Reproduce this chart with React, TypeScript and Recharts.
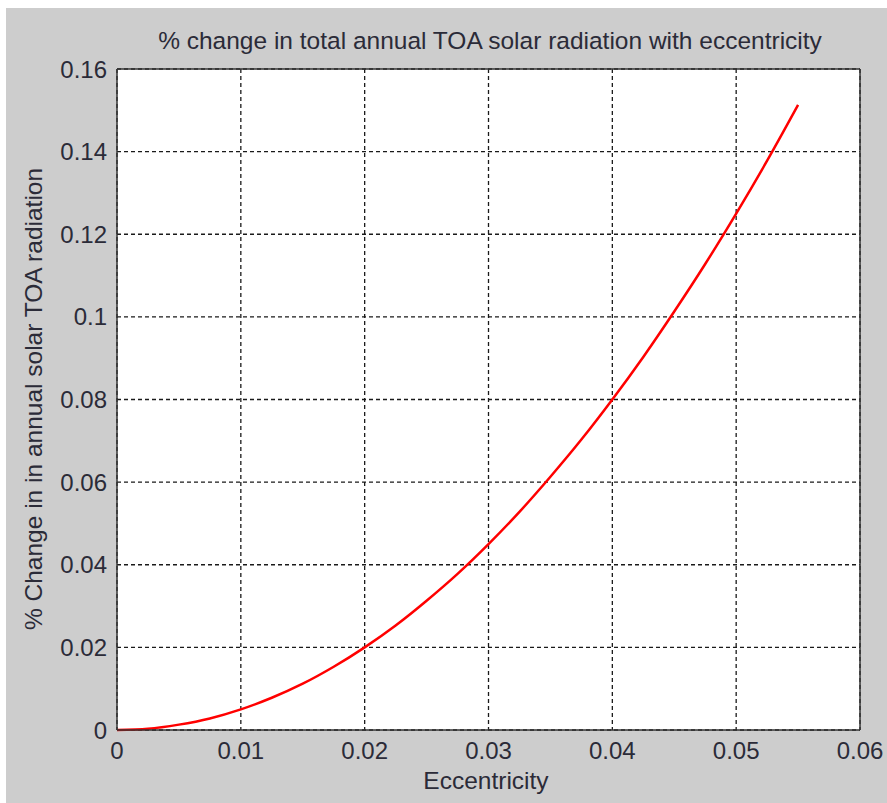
import React from 'react';
import { LineChart, Line, XAxis, YAxis, CartesianGrid, ReferenceLine } from 'recharts';

const eccentricity = [0, 0.0025, 0.005, 0.0075, 0.01, 0.0125, 0.015, 0.0175, 0.02, 0.0225, 0.025, 0.0275, 0.03, 0.0325, 0.035, 0.0375, 0.04, 0.0425, 0.045, 0.0475, 0.05, 0.0525, 0.055];
const pctChange = [0, 0.0003, 0.0013, 0.0028, 0.005, 0.0078, 0.0112, 0.0153, 0.02, 0.0253, 0.0313, 0.0378, 0.045, 0.0528, 0.0613, 0.0703, 0.08, 0.0903, 0.1013, 0.1128, 0.125, 0.1378, 0.1513];
const xTicks = [0, 0.01, 0.02, 0.03, 0.04, 0.05, 0.06];
const yTicks = [0, 0.02, 0.04, 0.06, 0.08, 0.1, 0.12, 0.14, 0.16];

const title = '% change in total annual TOA solar radiation with eccentricity';
const xLabel = 'Eccentricity';
const yLabel = '% Change in in annual solar TOA radiation';

const data = eccentricity.map((e, i) => ({ e, v: pctChange[i] }));

const FONT = '"Liberation Sans", Arial, sans-serif';
const TEXT = '#2b2b38';
const fmt = (v: number) => String(Number(v.toFixed(2)));

export default function App() {
  return (
    <div style={{ position: 'fixed', left: 0, top: 0, width: 887, height: 803, background: '#ffffff', overflow: 'hidden' }}>
      <div style={{ position: 'absolute', left: 6, top: 8, width: 881, height: 795, background: '#cdcdcd' }} />
      <div style={{ position: 'absolute', left: 0, top: 0 }}>
        <LineChart width={887} height={803} data={data} margin={{ top: 69, right: 27, bottom: 0, left: 0 }}>
          <CartesianGrid
            fill="#ffffff"
            stroke="#1a1a1a"
            strokeWidth={1.3}
            strokeDasharray="4 3"
            verticalValues={xTicks}
            horizontalValues={yTicks}
          />
          <XAxis
            dataKey="e"
            type="number"
            domain={[0, 0.06]}
            ticks={xTicks}
            tickFormatter={fmt}
            height={73}
            axisLine={{ stroke: '#333', strokeWidth: 1.5 }}
            tickLine={false}
            tick={{ fill: TEXT, fontSize: 24, fontFamily: FONT, dy: 4 }}
            interval={0}
          />
          <YAxis
            type="number"
            domain={[0, 0.16]}
            ticks={yTicks}
            tickFormatter={fmt}
            width={117}
            axisLine={{ stroke: '#333', strokeWidth: 1.5 }}
            tickLine={false}
            tick={{ fill: TEXT, fontSize: 24, fontFamily: FONT, dx: -2 }}
            interval={0}
          />
          <ReferenceLine y={0.16} stroke="#333" strokeWidth={1.5} />
          <ReferenceLine x={0.06} stroke="#333" strokeWidth={1.5} />
          <Line
            dataKey="v"
            type="monotone"
            stroke="#ff0000"
            strokeWidth={2.5}
            dot={false}
            isAnimationActive={false}
          />
        </LineChart>
      </div>
      <svg width={887} height={803} style={{ position: 'absolute', left: 0, top: 0, pointerEvents: 'none' }}>
        <text x={490} y={49} textAnchor="middle" fontFamily={FONT} fontSize={24.5} fill={TEXT}>{title}</text>
        <text x={486} y={789} textAnchor="middle" fontFamily={FONT} fontSize={24.5} fill={TEXT}>{xLabel}</text>
        <text x={0} y={0} transform="translate(42 399) rotate(-90)" textAnchor="middle" fontFamily={FONT} fontSize={24.5} fill={TEXT}>{yLabel}</text>
      </svg>
    </div>
  );
}
